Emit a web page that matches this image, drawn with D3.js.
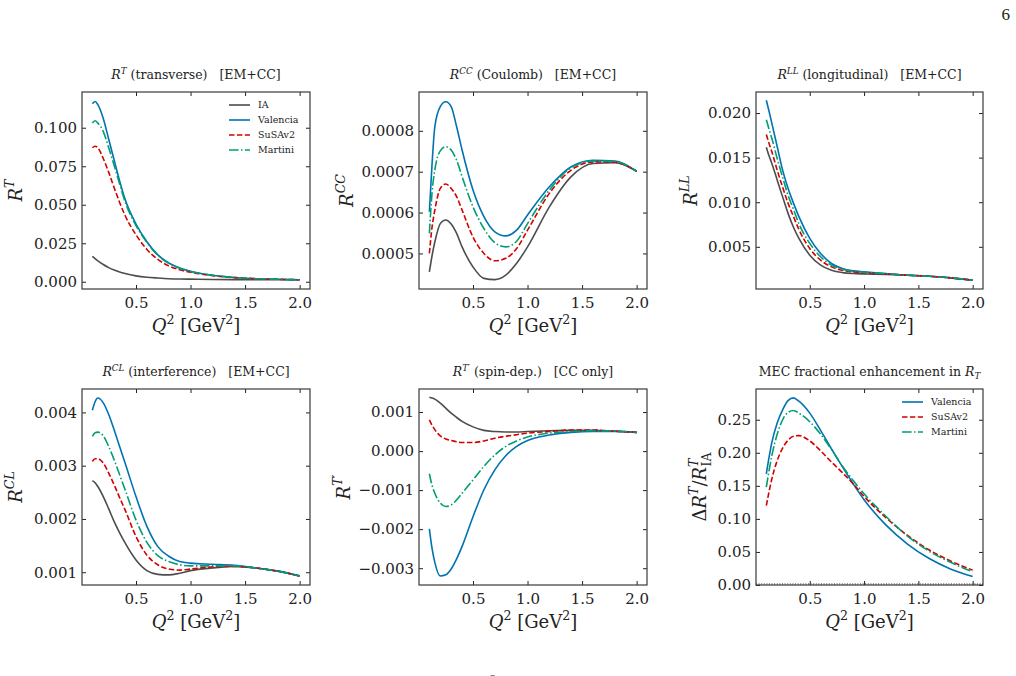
<!DOCTYPE html>
<html>
<head>
<meta charset="utf-8">
<title>Response functions vs Q2</title>
<script src="https://d3js.org/d3.v7.min.js"></script>
<style>
  body { margin: 0; background: #fff; }
  svg text { font-family: "DejaVu Serif", serif; white-space: pre; }
</style>
</head>
<body>
<div id="chart"></div>
<script>
// Q^2 grid (GeV^2)
const q2 = [0.10, 0.125, 0.15, 0.20, 0.25, 0.30, 0.35, 0.40, 0.50, 0.60, 0.70, 0.80, 0.90, 1.00, 1.20, 1.40, 1.60, 1.80, 2.00];

// R^T
const rtIA  = [0.0165, 0.0150, 0.0136, 0.0112, 0.0092, 0.0076, 0.0063, 0.0053, 0.0038, 0.0029, 0.0024, 0.0020, 0.0018, 0.0017, 0.0015, 0.0014, 0.0013, 0.0013, 0.0012];
const rtVal = [0.1155, 0.1170, 0.1150, 0.1060, 0.0925, 0.0790, 0.0655, 0.0535, 0.0375, 0.0260, 0.0175, 0.0122, 0.0090, 0.0068, 0.0042, 0.0028, 0.0020, 0.0016, 0.0013];
const rtSus = [0.0870, 0.0880, 0.0870, 0.0800, 0.0710, 0.0610, 0.0515, 0.0430, 0.0305, 0.0210, 0.0145, 0.0103, 0.0078, 0.0062, 0.0040, 0.0027, 0.0020, 0.0016, 0.0013];
const rtMar = [0.1030, 0.1045, 0.1030, 0.0975, 0.0870, 0.0755, 0.0635, 0.0520, 0.0365, 0.0255, 0.0172, 0.0120, 0.0088, 0.0067, 0.0042, 0.0028, 0.0020, 0.0016, 0.0013];

// R^CC
const rccIA  = [0.000455, 0.000495, 0.000528, 0.000573, 0.000582, 0.000572, 0.000549, 0.000516, 0.000467, 0.000439, 0.000436, 0.000447, 0.000476, 0.000516, 0.000614, 0.000688, 0.000720, 0.000722, 0.000701];
const rccVal = [0.000602, 0.000720, 0.000810, 0.000859, 0.000871, 0.000859, 0.000810, 0.000753, 0.000655, 0.000590, 0.000553, 0.000543, 0.000557, 0.000594, 0.000663, 0.000712, 0.000728, 0.000726, 0.000701];
const rccSus = [0.000500, 0.000565, 0.000606, 0.000659, 0.000670, 0.000659, 0.000639, 0.000606, 0.000540, 0.000500, 0.000482, 0.000488, 0.000512, 0.000557, 0.000647, 0.000704, 0.000724, 0.000723, 0.000701];
const rccMar = [0.000549, 0.000650, 0.000704, 0.000751, 0.000761, 0.000753, 0.000728, 0.000688, 0.000614, 0.000561, 0.000526, 0.000516, 0.000530, 0.000573, 0.000655, 0.000710, 0.000726, 0.000725, 0.000701];

// R^LL
const rllIA  = [0.01617, 0.0152, 0.01438, 0.0125, 0.0106, 0.00875, 0.0072, 0.00594, 0.00406, 0.00294, 0.00237, 0.00211, 0.0020, 0.00196, 0.00191, 0.00182, 0.0017, 0.00152, 0.00125];
const rllVal = [0.02143, 0.0202, 0.0189, 0.01625, 0.0136, 0.01156, 0.0099, 0.00838, 0.00594, 0.00425, 0.00313, 0.00256, 0.0023, 0.00219, 0.0020, 0.00182, 0.0017, 0.00152, 0.00125];
const rllSus = [0.0176, 0.0166, 0.0157, 0.0136, 0.0117, 0.0099, 0.0084, 0.00695, 0.00481, 0.0035, 0.00275, 0.00237, 0.00219, 0.00208, 0.00196, 0.00182, 0.0017, 0.00152, 0.00125];
const rllMar = [0.01925, 0.0182, 0.0172, 0.0149, 0.0128, 0.0108, 0.0092, 0.0076, 0.00538, 0.00388, 0.00294, 0.00249, 0.00225, 0.00215, 0.00199, 0.00182, 0.0017, 0.00152, 0.00125];

// R^CL
const rclIA  = [0.00272, 0.00268, 0.00261, 0.00242, 0.00219, 0.00195, 0.00174, 0.00155, 0.00123, 0.00103, 0.00096, 0.00095, 0.00098, 0.00103, 0.00108, 0.00111, 0.00108, 0.00102, 0.00093];
const rclVal = [0.00404, 0.00420, 0.00427, 0.00418, 0.00396, 0.00367, 0.00336, 0.00305, 0.00242, 0.00186, 0.00148, 0.00130, 0.00120, 0.00117, 0.00115, 0.00113, 0.00108, 0.00102, 0.00093];
const rclSus = [0.00308, 0.00313, 0.00313, 0.00305, 0.00286, 0.00264, 0.00240, 0.00217, 0.00167, 0.00132, 0.00114, 0.00106, 0.00104, 0.00106, 0.00110, 0.00111, 0.00108, 0.00102, 0.00093];
const rclMar = [0.00355, 0.00362, 0.00363, 0.00356, 0.00336, 0.00311, 0.00283, 0.00255, 0.00198, 0.00156, 0.00131, 0.00120, 0.00114, 0.00112, 0.00112, 0.00112, 0.00108, 0.00102, 0.00093];

// R^T'
const rtpIA  = [0.00138, 0.00136, 0.00133, 0.00123, 0.00110, 0.00097, 0.00086, 0.00076, 0.00062, 0.00053, 0.00050, 0.00049, 0.00049, 0.00050, 0.00052, 0.00053, 0.00053, 0.00051, 0.00048];
const rtpVal = [-0.00199, -0.00250, -0.00285, -0.00320, -0.00317, -0.00302, -0.00276, -0.00244, -0.00168, -0.00099, -0.00048, -0.00012, 0.00012, 0.00027, 0.00041, 0.00048, 0.00050, 0.00050, 0.00048];
const rtpSus = [0.00080, 0.00066, 0.00055, 0.00039, 0.00031, 0.00027, 0.00024, 0.00022, 0.00022, 0.00026, 0.00033, 0.00038, 0.00042, 0.00046, 0.00050, 0.00054, 0.00054, 0.00051, 0.00048];
const rtpMar = [-0.00058, -0.00088, -0.00108, -0.00133, -0.00142, -0.00138, -0.00125, -0.00108, -0.00074, -0.00039, -0.00010, 0.00012, 0.00026, 0.00036, 0.00046, 0.00050, 0.00052, 0.00051, 0.00048];

// MEC fractional enhancement dR^T / R^T_IA
const encVal = [0.168, 0.193, 0.215, 0.245, 0.265, 0.279, 0.283, 0.278, 0.260, 0.234, 0.206, 0.179, 0.153, 0.129, 0.091, 0.062, 0.040, 0.024, 0.013];
const encSus = [0.120, 0.141, 0.160, 0.188, 0.207, 0.219, 0.225, 0.226, 0.218, 0.203, 0.186, 0.170, 0.153, 0.134, 0.102, 0.075, 0.053, 0.036, 0.0225];
const encMar = [0.148, 0.173, 0.195, 0.228, 0.250, 0.261, 0.264, 0.260, 0.247, 0.228, 0.205, 0.180, 0.158, 0.138, 0.104, 0.074, 0.051, 0.034, 0.020];

const xTicks = [0.5, 1.0, 1.5, 2.0];

const styles = {
  IA:       { color: "#4d4d4d", dash: null },
  Valencia: { color: "#0072b2", dash: null },
  SuSAv2:   { color: "#d40000", dash: "5.5,2.4" },
  Martini:  { color: "#009e73", dash: "9.6,2.4,1.5,2.4" }
};

const W = 1016, H = 676;
const cols = [[82, 310], [419, 647], [756, 983]];
const rows = [[92, 289], [389, 585]];

const panels = [
  { col: 0, row: 0, series: { IA: rtIA, Valencia: rtVal, SuSAv2: rtSus, Martini: rtMar },
    yDomain: [-0.0047, 0.1232], yTicks: [0, 0.025, 0.05, 0.075, 0.1], fmt: ".3f",
    title: [{ t: "R", it: 1 }, { t: "T", it: 1, sup: 1 }, { t: " (transverse)   [EM+CC]" }],
    ylab: [{ t: "R", it: 1 }, { t: "T", it: 1, sup: 1 }], ylabX: 22,
    legend: ["IA", "Valencia", "SuSAv2", "Martini"] },
  { col: 1, row: 0, series: { IA: rccIA, Valencia: rccVal, SuSAv2: rccSus, Martini: rccMar },
    yDomain: [0.000413, 0.000895], yTicks: [0.0005, 0.0006, 0.0007, 0.0008], fmt: ".4f",
    title: [{ t: "R", it: 1 }, { t: "CC", it: 1, sup: 1 }, { t: " (Coulomb)   [EM+CC]" }],
    ylab: [{ t: "R", it: 1 }, { t: "CC", it: 1, sup: 1 }], ylabX: 353 },
  { col: 2, row: 0, series: { IA: rllIA, Valencia: rllVal, SuSAv2: rllSus, Martini: rllMar },
    yDomain: [0.00027, 0.02236], yTicks: [0.005, 0.01, 0.015, 0.02], fmt: ".3f",
    title: [{ t: "R", it: 1 }, { t: "LL", it: 1, sup: 1 }, { t: " (longitudinal)   [EM+CC]" }],
    ylab: [{ t: "R", it: 1 }, { t: "LL", it: 1, sup: 1 }], ylabX: 697 },
  { col: 0, row: 1, series: { IA: rclIA, Valencia: rclVal, SuSAv2: rclSus, Martini: rclMar },
    yDomain: [0.00076, 0.00444], yTicks: [0.001, 0.002, 0.003, 0.004], fmt: ".3f",
    title: [{ t: "R", it: 1 }, { t: "CL", it: 1, sup: 1 }, { t: " (interference)   [EM+CC]" }],
    ylab: [{ t: "R", it: 1 }, { t: "CL", it: 1, sup: 1 }], ylabX: 22 },
  { col: 1, row: 1, series: { IA: rtpIA, Valencia: rtpVal, SuSAv2: rtpSus, Martini: rtpMar },
    yDomain: [-0.00343, 0.00159], yTicks: [-0.003, -0.002, -0.001, 0, 0.001], fmt: ".3f",
    title: [{ t: "R", it: 1 }, { t: "T\u2032", it: 1, sup: 1 }, { t: " (spin-dep.)   [CC only]" }],
    ylab: [{ t: "R", it: 1 }, { t: "T\u2032", it: 1, sup: 1 }], ylabX: 350 },
  { col: 2, row: 1, series: { Valencia: encVal, SuSAv2: encSus, Martini: encMar },
    yDomain: [0, 0.2965], yTicks: [0, 0.05, 0.1, 0.15, 0.2, 0.25], fmt: ".2f", zeroLine: true,
    title: [{ t: "MEC fractional enhancement in " }, { t: "R", it: 1 }, { t: "T", it: 1, sub: 1 }],
    ylab: [{ t: "\u0394" }, { t: "R", it: 1 }, { t: "T", it: 1, sup: 1 }, { t: "/" }, { t: "R", it: 1 },
           { t: "T", it: 1, sup: 1 }, { t: "IA", sub: 1, dx: -8 }], ylabX: 706,
    legend: ["Valencia", "SuSAv2", "Martini"] }
];

const svg = d3.select("#chart").append("svg")
  .attr("width", W).attr("height", H);

// write rich text (italics, super/subscripts) into a text element
function rich(sel, parts, size) {
  let shift = 0;
  parts.forEach(p => {
    const target = p.sup ? -0.42 * size : p.sub ? 0.25 * size : 0;
    const ts = sel.append("tspan")
      .attr("dy", target - shift)
      .style("font-size", (p.sup || p.sub ? 0.7 * size : size) + "px")
      .style("font-style", p.it ? "italic" : "normal")
      .text(p.t);
    if (p.dx) ts.attr("dx", p.dx);
    shift = target;
  });
}

const minus = s => s.replace("-", "\u2212");

panels.forEach(p => {
  const [x0, x1] = cols[p.col];
  const [y0, y1] = rows[p.row];
  const x = d3.scaleLinear().domain([0.005, 2.095]).range([x0, x1]);
  const y = d3.scaleLinear().domain(p.yDomain).range([y1, y0]);
  const g = svg.append("g");

  const clipId = `clip${p.col}${p.row}`;
  g.append("clipPath").attr("id", clipId)
    .append("rect").attr("x", x0).attr("y", y0).attr("width", x1 - x0).attr("height", y1 - y0);

  if (p.zeroLine) {
    g.append("line")
      .attr("x1", x0).attr("x2", x1).attr("y1", y(0) - 1).attr("y2", y(0) - 1)
      .attr("stroke", "#000").attr("stroke-width", 0.9).attr("stroke-dasharray", "1,1.6");
  }

  const line = d3.line().x((d, i) => x(q2[i])).y(d => y(d)).curve(d3.curveMonotoneX);
  Object.entries(p.series).forEach(([name, vals]) => {
    g.append("path")
      .attr("clip-path", `url(#${clipId})`)
      .attr("d", line(vals))
      .attr("fill", "none")
      .attr("stroke", styles[name].color)
      .attr("stroke-width", 1.6)
      .attr("stroke-dasharray", styles[name].dash);
  });

  // axes with inward ticks on all four sides
  const tick = 4;
  const axB = g.append("g").attr("transform", `translate(0,${y1})`)
    .call(d3.axisBottom(x).tickValues(xTicks).tickFormat(d3.format(".1f")).tickSizeInner(-tick).tickSizeOuter(0).tickPadding(8));
  const axT = g.append("g").attr("transform", `translate(0,${y0})`)
    .call(d3.axisTop(x).tickValues(xTicks).tickFormat("").tickSizeInner(-tick).tickSizeOuter(0));
  const axL = g.append("g").attr("transform", `translate(${x0},0)`)
    .call(d3.axisLeft(y).tickValues(p.yTicks).tickFormat(d => minus(d3.format(p.fmt)(d))).tickSizeInner(-tick).tickSizeOuter(0).tickPadding(5));
  const axR = g.append("g").attr("transform", `translate(${x1},0)`)
    .call(d3.axisRight(y).tickValues(p.yTicks).tickFormat("").tickSizeInner(-tick).tickSizeOuter(0));
  [axB, axT, axL, axR].forEach(a => {
    a.attr("font-family", null);
    a.select(".domain").remove();
    a.selectAll("line").attr("stroke", "#222").attr("stroke-width", 1);
    a.selectAll("text").attr("fill", "#222").style("font-size", "15px");
  });

  g.append("rect")
    .attr("x", x0).attr("y", y0).attr("width", x1 - x0).attr("height", y1 - y0)
    .attr("fill", "none").attr("stroke", "#3a3a3a").attr("stroke-width", 1.2);

  // title
  rich(g.append("text")
    .attr("x", (x0 + x1) / 2).attr("y", y0 - 13)
    .attr("text-anchor", "middle").attr("fill", "#222"), p.title, 12.5);

  // x label
  rich(g.append("text")
    .attr("x", (x0 + x1) / 2).attr("y", y1 + 43)
    .attr("text-anchor", "middle").attr("fill", "#222"),
    [{ t: "Q", it: 1 }, { t: "2", sup: 1 }, { t: " [GeV" }, { t: "2", sup: 1 }, { t: "]" }], 18);

  // y label
  rich(g.append("text")
    .attr("transform", `translate(${p.ylabX},${(y0 + y1) / 2}) rotate(-90)`)
    .attr("text-anchor", "middle").attr("fill", "#222"), p.ylab, 18);

  // legend
  if (p.legend) {
    const lg = g.append("g").attr("transform", `translate(${x1 - 81},${y0 + 13})`);
    p.legend.forEach((name, i) => {
      const yy = i * 15;
      lg.append("line")
        .attr("x1", 0).attr("x2", 21).attr("y1", yy).attr("y2", yy)
        .attr("stroke", styles[name].color).attr("stroke-width", 1.6)
        .attr("stroke-dasharray", styles[name].dash);
      lg.append("text")
        .attr("x", 29).attr("y", yy).attr("dy", "0.35em")
        .style("font-size", "9.5px").attr("fill", "#222")
        .text(name);
    });
  }
});

// page number and cut-off text at the bottom
svg.append("text").attr("x", 1010).attr("y", 20).attr("text-anchor", "end")
  .style("font-family", "Liberation Serif").style("font-size", "17px").attr("fill", "#222").text("6");
svg.append("text").attr("x", 493).attr("y", 682).attr("text-anchor", "middle")
  .style("font-size", "10px").attr("fill", "#222").text("2");
</script>
</body>
</html>
